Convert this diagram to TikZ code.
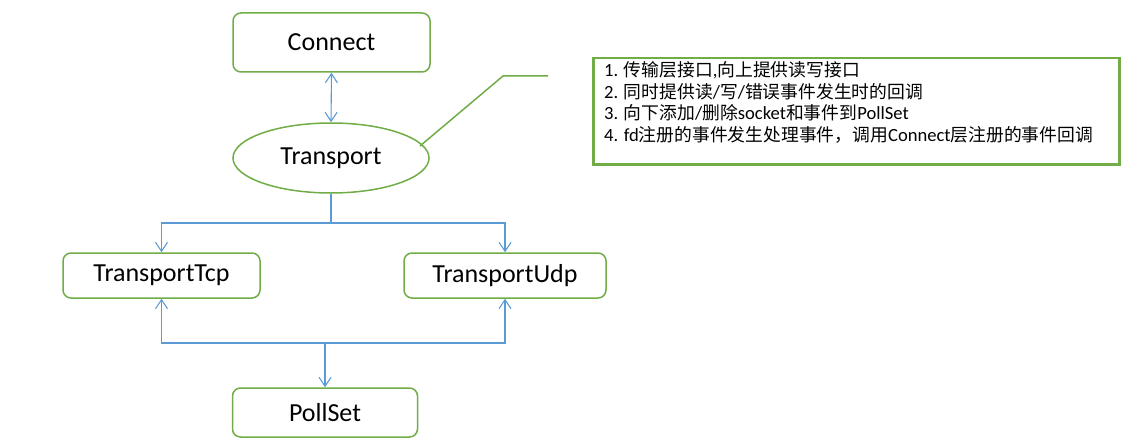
\documentclass[tikz,border=0pt]{standalone}
\usepackage{fontspec}
\setmainfont{Carlito}
\newfontfamily\cjk{Noto Sans CJK SC}
\usetikzlibrary{arrows.meta,shapes.geometric}
\definecolor{boxgreen}{HTML}{70AD47}
\definecolor{arrblue}{HTML}{5B9BD5}
\newcommand{\zh}[1]{{\cjk\fontsize{17.8pt}{21pt}\selectfont #1}}
\tikzset{
  box/.style={draw=boxgreen, line width=1.5pt, rounded corners=8pt, inner sep=0pt, font=\fontsize{26pt}{30pt}\selectfont},
  oval/.style={draw=boxgreen, line width=1.5pt, ellipse, inner sep=0pt, font=\fontsize{26pt}{30pt}\selectfont},
  arr/.style={draw=arrblue, line width=1.1pt, -{Straight Barb[length=9pt,width=12pt]}},
  biarr/.style={draw=arrblue, line width=1.1pt, {Straight Barb[length=9pt,width=12pt]}-{Straight Barb[length=9pt,width=12pt]}},
  conn/.style={draw=arrblue, line width=1.1pt},
  callout/.style={draw=boxgreen, line width=1.5pt},
  notebox/.style={draw=boxgreen, line width=2.5pt, inner sep=0pt},
  noteline/.style={anchor=base west, inner sep=0pt, font=\fontsize{18.6pt}{21pt}\selectfont}
}
\begin{document}
\begin{tikzpicture}[x=1pt,y=-1pt]
\useasboundingbox (0,0) rectangle (1147,441);
% nodes
\node[box, minimum width=197pt, minimum height=59pt] (con) at (331.5,42.5) {Connect};
\node[oval, minimum width=196pt, minimum height=70pt] (tr) at (331,158) {Transport};
\node[box, minimum width=197pt, minimum height=45pt] (tcp) at (161.5,275.5) {TransportTcp};
\node[box, minimum width=202pt, minimum height=45pt] (udp) at (505,275.5) {TransportUdp};
\node[box, minimum width=185pt, minimum height=49pt] (poll) at (325,412.5) {PollSet};
% note box
\node[notebox, minimum width=526pt, minimum height=106pt, anchor=north west] (note) at (592,57) {};
\node[noteline] (l1) at (604,77) {1. \zh{传输层接口},\zh{向上提供读写接口}};
\node[noteline] (l2) at (604,99) {2. \zh{同时提供读}/\zh{写}/\zh{错误事件发生时的回调}};
\node[noteline] (l3) at (604,120) {3. \zh{向下添加}/\zh{删除}socket\zh{和事件到}PollSet};
\node[noteline] (l4) at (604,141) {4. fd\zh{注册的事件发生处理事件，调用}Connect\zh{层注册的事件回调}};
% coordinates
\coordinate (j1) at (331,223);
\coordinate (j2) at (325,343);
\coordinate (c1) at (420,146);
\coordinate (c2) at (503,76);
\coordinate (c3) at (548,76);
% connectors
\draw[biarr] (con.south) -- (tr.north);
\draw[conn] (tr.south) -- (j1);
\draw[arr] (j1) -| (tcp.north);
\draw[arr] (j1) -| (udp.north);
\draw[arr] (j2) -| (tcp.south);
\draw[arr] (j2) -| (udp.south);
\draw[arr] (j2) -- (poll.north);
\draw[callout] (c1) -- (c2) -- (c3);
\end{tikzpicture}
\end{document}
